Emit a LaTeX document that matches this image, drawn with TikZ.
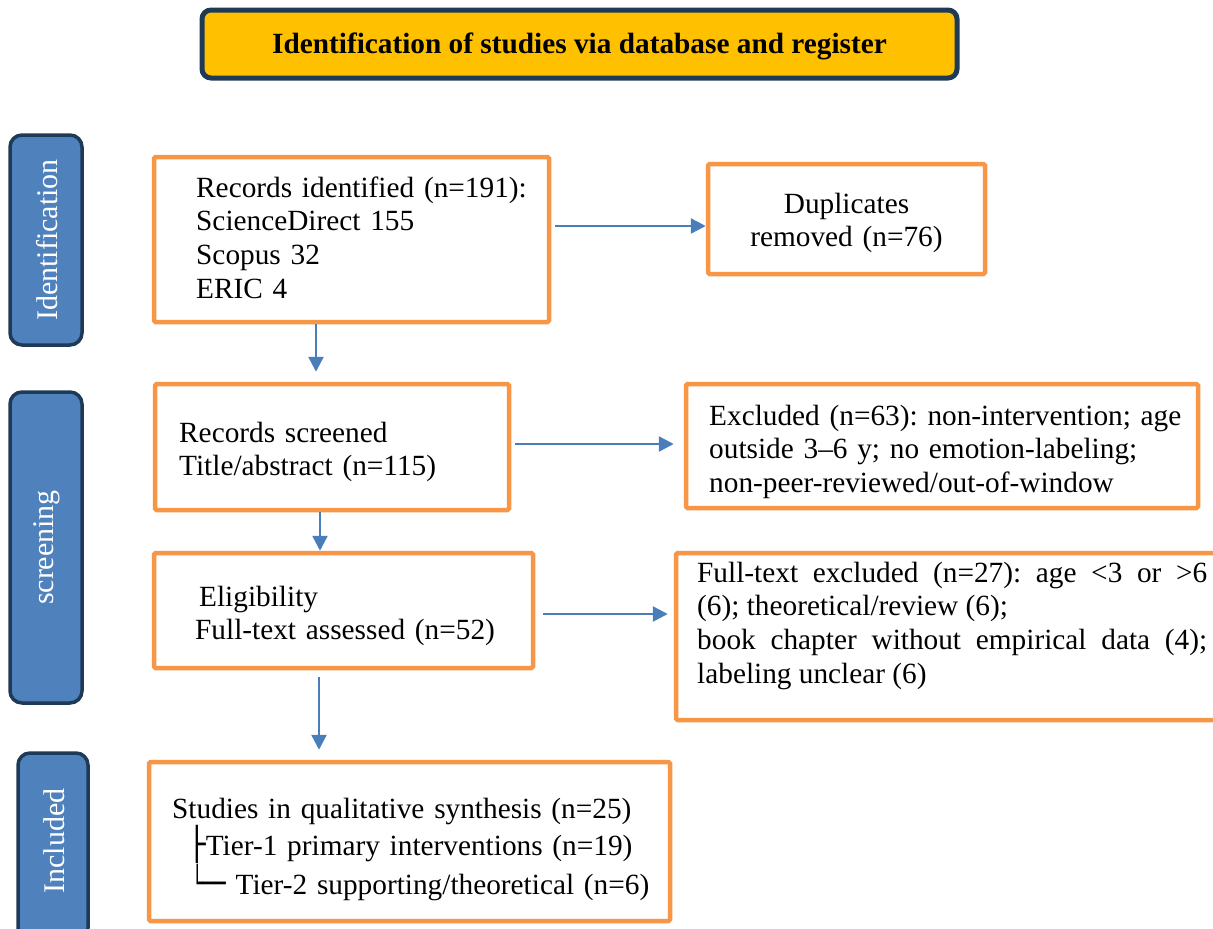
\documentclass[tikz,border=0pt]{standalone}
\usepackage{fontspec}
\usepackage{graphicx}
\setmainfont{Liberation Serif}
\newfontfamily\boxfont{DejaVu Sans Mono}
\usetikzlibrary{arrows.meta,calc}
\definecolor{orng}{HTML}{F79646}
\definecolor{arrblue}{HTML}{4A7EBB}
\definecolor{sidefill}{HTML}{4F81BD}
\definecolor{navy}{HTML}{1F3A57}
\definecolor{hdrfill}{HTML}{FFC000}
\newcommand\bxch[2]{\scalebox{#1}[1.1]{\boxfont #2}}
\tikzset{
  obox/.style={draw=orng, line width=4.5pt, rounded corners=1.5pt, fill=white, inner sep=0pt},
  sidebox/.style={draw=navy, line width=3.5pt, rounded corners=12pt, fill=sidefill, inner sep=0pt},
  sidetxt/.style={text=white, rotate=90, inner sep=0pt, font=\fontsize{30}{34}\selectfont},
  hdrbox/.style={draw=navy, line width=5pt, rounded corners=9pt, fill=hdrfill, inner sep=0pt},
  txt/.style={anchor=base west, inner sep=0pt, align=left, font=\fontsize{29.3}{33.7}\selectfont\frenchspacing},
  arr/.style={draw=arrblue, line width=2.5pt, -{Triangle[length=15pt,width=15pt]}}
}
\begin{document}
\frenchspacing
\begin{tikzpicture}[x=1pt,y=-1pt]
\useasboundingbox (0,0) rectangle (1213,929);
% header
\node[hdrbox, minimum width=755pt, minimum height=68pt] (hdr) at (579.5,44) {};
\node[anchor=base, inner sep=0pt, font=\fontsize{29.3}{33}\selectfont\bfseries] (hdr-t) at (579.5,53) {Identification of studies via database and register};
% side labels
\node[sidebox, minimum width=72pt, minimum height=210pt] (sid) at (46,240) {};
\node[sidetxt] (sid-t) at (47,240) {Identification};
\node[sidebox, minimum width=72pt, minimum height=311pt] (ssc) at (46,547.5) {};
\node[sidetxt] (ssc-t) at (47,547.5) {screening};
\node[sidebox, minimum width=70pt, minimum height=187pt] (sin) at (53,846.5) {};
\node[sidetxt] (sin-t) at (54,841) {Included};
% boxes
\node[obox, minimum width=395pt, minimum height=165pt] (rec) at (351.5,239.5) {};
\node[obox, minimum width=277pt, minimum height=110pt] (dup) at (846.5,219) {};
\node[obox, minimum width=354pt, minimum height=126pt] (scr) at (332,447) {};
\node[obox, minimum width=512pt, minimum height=124pt] (exc) at (942,446) {};
\node[obox, minimum width=379pt, minimum height=115pt] (eli) at (343.5,610.5) {};
\node[obox, minimum width=542pt, minimum height=167pt] (fte) at (947,636.5) {};
\node[obox, minimum width=521pt, minimum height=159pt] (inc) at (409.5,841.5) {};
% texts
\node[txt, text width=345pt] (rec-t) at (196,197) {Records identified (n=191):\\ScienceDirect 155\\Scopus 32\\ERIC 4};
\node[txt, anchor=base, align=center, text width=260pt] (dup-t) at (846.5,213) {Duplicates\\removed (n=76)};
\node[txt, text width=320pt] (scr-t) at (179,442) {Records screened\\Title/abstract (n=115)};
\node[txt, text width=485pt] (exc-t) at (709,425) {Excluded (n=63): non-intervention; age\\outside 3--6 y; no emotion-labeling;\\non-peer-reviewed/out-of-window};
\node[txt, text width=330pt] (eli-t) at (195,606) {\hspace*{4pt}Eligibility\\Full-text assessed (n=52)};
\node[txt, align=justify, text width=510pt] (fte-t) at (697,582) {Full-text excluded (n=27): age <3 or >6\linebreak (6); theoretical/review (6);\\book chapter without empirical data (4);\linebreak labeling unclear (6)};
\node[txt, text width=490pt, font=\fontsize{29.3}{35}\selectfont\frenchspacing] (inc-t) at (172,818) {Studies in qualitative synthesis (n=25)\\\hspace*{16pt}\bxch{1}{├}Tier-1 primary interventions (n=19)\\\hspace*{19.3pt}\bxch{0.65}{└──} Tier-2 supporting/theoretical (n=6)};
% helper coordinates
\coordinate (h1) at (0,226);
\coordinate (h3) at (0,444);
\coordinate (h5) at (0,614);
\coordinate (v2) at (316,0);
\coordinate (v4) at (320,0);
\coordinate (v6) at (319,0);
% arrows
\draw[arr] ([xshift=4pt]rec.east |- h1) -- (dup.west |- h1);
\draw[arr] (rec.south -| v2) -- ([yshift=10pt]scr.north -| v2);
\draw[arr] ([xshift=4pt]scr.east |- h3) -- ([xshift=-10pt]exc.west |- h3);
\draw[arr] (scr.south -| v4) -- (eli.north -| v4);
\draw[arr] ([xshift=8pt]eli.east |- h5) -- ([xshift=-6pt]fte.west |- h5);
\draw[arr] ([yshift=-7pt]eli.south -| v6) -- ([yshift=10pt]inc.north -| v6);
\end{tikzpicture}
\end{document}
